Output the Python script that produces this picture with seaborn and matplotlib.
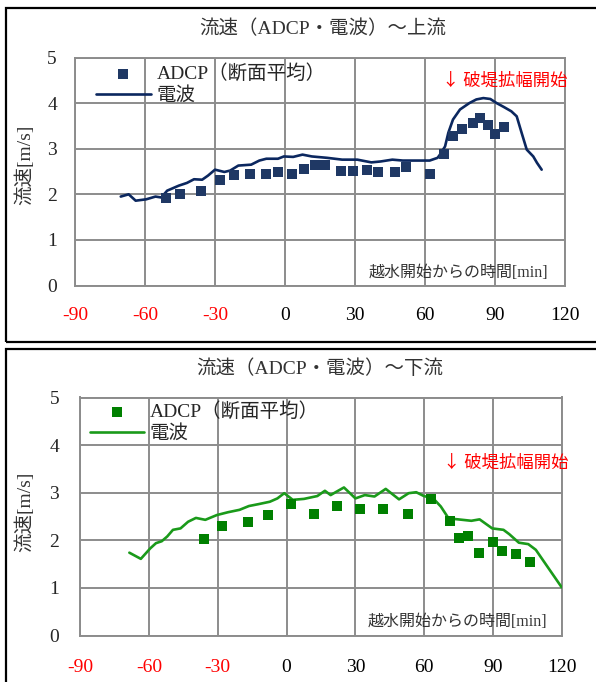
import matplotlib
matplotlib.use("Agg")
import matplotlib.pyplot as plt
import seaborn as sns
import pandas as pd
from matplotlib.patches import Rectangle

# ---------------- data ----------------
up_adcp_t = [-51, -45, -36, -28, -22, -15, -8, -3, 3, 8, 13, 17, 24, 29, 35, 40,
             47, 52, 62, 68, 72, 76, 80.5, 83.5, 87, 90, 94]
up_adcp_v = [1.92, 2.01, 2.08, 2.32, 2.42, 2.45, 2.44, 2.48, 2.45, 2.55, 2.64, 2.64,
             2.52, 2.51, 2.54, 2.49, 2.49, 2.60, 2.45, 2.89, 3.27, 3.43, 3.56, 3.67,
             3.53, 3.33, 3.48]
up_radio_t = [-70.4, -67, -64, -59.5, -55.5, -53, -50.5, -45.5, -42, -39, -35.5, -33,
              -30, -26, -23.5, -20, -14.5, -11, -8, -3, -0.5, 3.5, 7.5, 11.5, 18,
              24.5, 31, 37, 41, 46, 50.5, 57, 62, 65.4, 66.4, 68.6, 70, 72, 75, 79,
              82, 85, 88, 90.7, 93.6, 97, 99.3, 101.4, 103.6, 106.4, 108, 110]
up_radio_v = [1.95, 2.00, 1.86, 1.89, 1.95, 1.93, 2.08, 2.19, 2.25, 2.33, 2.32, 2.41,
              2.54, 2.49, 2.52, 2.63, 2.65, 2.74, 2.78, 2.78, 2.83, 2.82, 2.87, 2.83,
              2.80, 2.76, 2.76, 2.70, 2.72, 2.76, 2.74, 2.74, 2.74, 2.80, 2.87, 3.05,
              3.35, 3.64, 3.86, 4.00, 4.08, 4.11, 4.09, 4.00, 3.92, 3.82, 3.71, 3.35,
              2.98, 2.83, 2.69, 2.54]

dn_adcp_t = [-36, -28, -17, -8, 2, 12, 22, 32, 42, 53, 63, 71, 75, 79, 84, 90, 94,
             100, 106]
dn_adcp_v = [2.03, 2.30, 2.39, 2.54, 2.76, 2.55, 2.72, 2.65, 2.66, 2.55, 2.87, 2.40,
             2.04, 2.10, 1.74, 1.96, 1.78, 1.71, 1.55]
dn_radio_t = [-68.5, -63.5, -59.4, -56.9, -54.4, -52, -49.5, -46.2, -42.9, -39.5,
              -35.4, -30.4, -25.5, -20.5, -16.4, -12.2, -7.3, -4, -1, 2.7, 7.6, 13.4,
              16.7, 19.2, 21.7, 25, 30, 34.1, 38.3, 43.2, 49, 53.2, 56.5, 59.8, 63.9,
              67.2, 70.6, 74.7, 80.5, 84.1, 89.6, 94.5, 97, 101.2, 105.3, 108.6, 113.6,
              119.9]
dn_radio_v = [1.74, 1.61, 1.83, 1.94, 1.98, 2.08, 2.22, 2.25, 2.39, 2.47, 2.43, 2.53,
              2.59, 2.64, 2.72, 2.76, 2.81, 2.88, 2.99, 2.85, 2.87, 2.93, 3.04, 2.95,
              3.02, 3.11, 2.88, 2.95, 2.92, 3.08, 2.86, 2.99, 3.01, 2.93, 2.88, 2.71,
              2.46, 2.44, 2.41, 2.44, 2.25, 2.22, 2.13, 1.95, 1.92, 1.80, 1.45, 1.01]

x_ticks = [-90, -60, -30, 0, 30, 60, 90, 120]
y_ticks = [0, 1, 2, 3, 4, 5]
titles = ["流速（ADCP・電波）～上流", "流速（ADCP・電波）～下流"]
legend_adcp = "ADCP（断面平均）"
legend_radio = "電波"
ylabel = "流速[m/s]"
xlabel = "越水開始からの時間[min]"
note = "↓ 破堤拡幅開始"

# ---------------- style ----------------
sns.set_style("white")
SERIF = ["Liberation Serif", "Noto Sans CJK JP"]
plt.rcParams["font.family"] = SERIF

W, H = 596, 682
fig = plt.figure(figsize=(W / 100, H / 100), dpi=100)

def fx(px):
    return px / W

def fy(py):
    return 1 - py / H

GRID = "#8c8c8c"

panels = [
    dict(ax=(75, 565, 57.5, 285.5), adcp=(up_adcp_t, up_adcp_v), radio=(up_radio_t, up_radio_v),
         mcol="#1f3864", lcol="#0b275f", title=titles[0], title_xy=(323, 29),
         frame=(6, 8, 341.7), note_xy=(442, 81), ylab_xy=(24, 165), xpad=15.5, ypad=13,
         leg=(0.043, 0.97), xl_xy=(548, 273)),
    dict(ax=(80, 562, 397.5, 635.5), adcp=(dn_adcp_t, dn_adcp_v), radio=(dn_radio_t, dn_radio_v),
         mcol="#008000", lcol="#1a9a1a", title=titles[1], title_xy=(320, 369),
         frame=(6, 349.3, 700), note_xy=(443, 463), ylab_xy=(24, 512), xpad=17, ypad=15,
         leg=(0.02, 0.98), xl_xy=(547, 622)),
]

for p in panels:
    l, r, t, b = p["ax"]
    ax = fig.add_axes([fx(l), fy(b), fx(r - l), (b - t) / H])
    at, av = p["adcp"]
    rt, rv = p["radio"]
    df_a = pd.DataFrame({"t": at, "v": av})
    df_r = pd.DataFrame({"t": rt, "v": rv})
    sns.scatterplot(data=df_a, x="t", y="v", marker="s", s=55, color=p["mcol"],
                    linewidth=0, ax=ax, label=legend_adcp, zorder=4)
    sns.lineplot(data=df_r, x="t", y="v", color=p["lcol"], linewidth=1.9, ax=ax,
                 label=legend_radio, zorder=3)
    ax.set_xlim(-90, 120)
    ax.set_ylim(0, 5)
    ax.set_xticks(x_ticks)
    ax.set_yticks(y_ticks)
    ax.set_xticklabels([str(v) for v in x_ticks])
    ax.set_yticklabels([str(v) for v in y_ticks])
    for lab, v in zip(ax.get_xticklabels(), x_ticks):
        lab.set_color("red" if v < 0 else "black")
    ax.tick_params(axis="x", length=0, pad=p["xpad"], labelsize=14)
    ax.tick_params(axis="y", length=0, pad=p["ypad"], labelsize=14)
    ax.set_xlabel("")
    ax.set_ylabel("")
    ax.grid(True, color=GRID, linewidth=1.4)
    ax.set_axisbelow(True)
    for sp in ax.spines.values():
        sp.set_visible(True)
        sp.set_color(GRID)
        sp.set_linewidth(1.4)

    ax.legend(loc="upper left", bbox_to_anchor=p["leg"], frameon=False,
              fontsize=14, handlelength=2.8, handletextpad=0.3,
              labelspacing=0.2, borderpad=0.0, borderaxespad=0.0,
              markerscale=1.0)

    ax.text((p["xl_xy"][0] - l) / (r - l), (b - p["xl_xy"][1]) / (b - t), xlabel,
            transform=ax.transAxes, ha="right", va="center", fontsize=11.5,
            color="#333333")

    fig.text(fx(p["title_xy"][0]), fy(p["title_xy"][1]), p["title"], ha="center",
             va="center", fontsize=14, color="#333333")
    fig.text(fx(p["note_xy"][0]), fy(p["note_xy"][1]), note, ha="left", va="center",
             fontsize=12.5, color="red", family=["Noto Sans CJK JP", "DejaVu Sans"])
    fig.text(fx(p["ylab_xy"][0]), fy(p["ylab_xy"][1]), ylabel, rotation=90,
             ha="center", va="center", fontsize=14, color="#333333")

    x0, y0, y1 = p["frame"]
    fig.add_artist(Rectangle((fx(x0), fy(y1)), 1.2, (y1 - y0) / H,
                             transform=fig.transFigure, fill=False, edgecolor="black",
                             linewidth=1.6, clip_on=False))

fig.savefig("out.png", dpi=100)
